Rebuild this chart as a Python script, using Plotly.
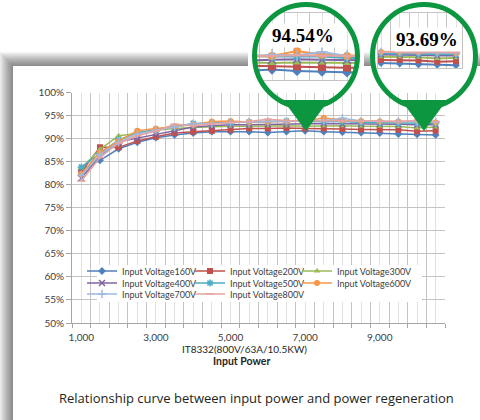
import math
import plotly.graph_objects as go

W, H = 480, 420

# ---------------- data ----------------
input_power = [1000, 1500, 2000, 2500, 3000, 3500, 4000, 4500, 5000, 5500,
               6000, 6500, 7000, 7500, 8000, 8500, 9000, 9500, 10000, 10500]
x_tick_vals = [1000, 3000, 5000, 7000, 9000]
x_tick_labels = ["1,000", "3,000", "5,000", "7,000", "9,000"]

series_names = ["Input Voltage160V", "Input Voltage200V", "Input Voltage300V",
                "Input Voltage400V", "Input Voltage500V", "Input Voltage600V",
                "Input Voltage700V", "Input Voltage800V"]

v160 = [83.2, 85.3, 87.8, 89.2, 90.2, 90.8, 91.2, 91.5, 91.5, 91.5,
        91.3, 91.5, 91.7, 91.5, 91.4, 91.3, 91.2, 91.0, 90.9, 90.8]
v200 = [82.8, 88.1, 88.1, 89.5, 90.4, 91.2, 91.5, 91.7, 91.9, 92.2,
        92.2, 92.3, 92.2, 92.2, 92.1, 92.0, 92.0, 91.9, 91.6, 91.7]
v300 = [83.6, 87.7, 90.6, 91.1, 91.8, 92.2, 92.4, 92.6, 92.7, 92.7,
        92.8, 92.8, 92.7, 92.8, 92.8, 92.7, 92.7, 92.6, 92.3, 92.5]
v400 = [81.4, 86.3, 89.3, 90.1, 91.0, 91.8, 92.5, 92.8, 93.0, 93.0,
        93.1, 93.1, 93.2, 93.3, 93.2, 93.2, 93.2, 93.1, 93.0, 93.0]
v500 = [83.8, 86.8, 89.7, 91.3, 91.9, 92.6, 93.3, 93.4, 93.5, 93.6,
        93.6, 93.8, 93.7, 93.7, 93.7, 93.5, 93.4, 93.4, 93.4, 93.3]
v600 = [82.3, 87.0, 89.5, 91.7, 92.2, 92.6, 93.0, 93.7, 93.8, 93.6,
        93.6, 93.7, 93.8, 94.54, 94.0, 93.8, 93.7, 93.7, 93.8, 93.5]
v700 = [82.0, 86.5, 89.2, 91.0, 91.8, 92.5, 93.2, 93.3, 93.5, 93.6,
        93.7, 93.7, 94.0, 93.9, 94.4, 93.8, 93.7, 93.7, 93.6, 93.6]
v800 = [80.8, 85.9, 89.0, 90.6, 91.6, 93.1, 92.8, 93.2, 93.5, 93.7,
        94.2, 93.9, 93.8, 93.9, 93.8, 93.8, 93.8, 93.69, 93.9, 93.7]
series_values = [v160, v200, v300, v400, v500, v600, v700, v800]

callout_texts = ["94.54%", "93.69%"]

x_title = "IT8332(800V/63A/10.5KW)"
x_title2 = "Input Power"
caption = "Relationship curve between input power and power regeneration"

# ---------------- styles ----------------
colors = ["#4F81BD", "#C0504D", "#9BBB59", "#8064A2", "#4BACC6", "#F79646",
          "#9DB9DE", "#E5A4A2"]
symbols = ["diamond", "square", "triangle-up", "x-thin-open", "asterisk-open",
           "circle", "cross-thin-open", "line-ew-open"]
open_sym = [False, False, False, True, True, False, True, True]
GREEN = "#0C9640"
GRID_MAJ = "#C4C4C4"
GRID_MIN = "#E0E0E0"
AXIS = "#A6A6A6"


def fx(x):
    return x / W


def fy(y):
    return 1 - y / H


def rect_path(x0, y0, x1, y1):
    return (f"M {fx(x0):.5f},{fy(y0):.5f} L {fx(x1):.5f},{fy(y0):.5f} "
            f"L {fx(x1):.5f},{fy(y1):.5f} L {fx(x0):.5f},{fy(y1):.5f} Z")


def circle_path(cx, cy, r, clip, n=90):
    pts = []
    for k in range(n):
        a = 2 * math.pi * k / n
        x = min(max(cx + r * math.cos(a), clip[0]), clip[2])
        y = min(max(cy + r * math.sin(a), clip[1]), clip[3])
        pts.append(f"{fx(x):.5f},{fy(y):.5f}")
    return "M " + " L ".join(pts) + " Z"


fig = go.Figure()

boundaries = [p - 250 for p in input_power] + [input_power[-1] + 250]
tick_text = [x_tick_labels[x_tick_vals.index(p)] if p in x_tick_vals else ""
             for p in input_power]

legend_ids = ["legend"] + [f"legend{k}" for k in range(2, 9)]
col_text_x = [125, 233, 340]
row_y = [271, 283, 294]

# main traces
for i, (name, vals) in enumerate(zip(series_names, series_values)):
    fig.add_trace(go.Scatter(
        x=input_power, y=vals, name=name, mode="lines+markers",
        line=dict(color=colors[i], width=1.5),
        marker=dict(symbol=symbols[i], size=6, color=colors[i],
                    line=dict(color=colors[i], width=1.5 if open_sym[i] else 0)),
        legend=legend_ids[i], xaxis="x", yaxis="y", hoverinfo="skip"))

# magnified callout traces
for ax in ["2", "3"]:
    for i, vals in enumerate(series_values):
        fig.add_trace(go.Scatter(
            x=input_power, y=vals, mode="lines+markers", showlegend=False,
            line=dict(color=colors[i], width=2),
            marker=dict(symbol=symbols[i], size=8 if ax == "2" else 6, color=colors[i],
                        line=dict(color=colors[i], width=1.5 if open_sym[i] else 0)),
            xaxis="x" + ax, yaxis="y" + ax, hoverinfo="skip"))

shapes = []
# card shadow
for d in range(14, 0, -1):
    shapes.append(dict(type="rect", xref="paper", yref="paper",
                       x0=fx(13 - d), x1=fx(490), y0=fy(430), y1=fy(66 - d),
                       fillcolor="rgba(0,0,0,0.04)", line=dict(width=0), layer="below"))
# white discs behind the callouts
for cx in [306, 424]:
    shapes.append(dict(type="circle", xref="paper", yref="paper",
                       x0=fx(cx - 53), x1=fx(cx + 53), y0=fy(56 + 53), y1=fy(56 - 53),
                       fillcolor="white", line=dict(width=0), layer="below"))
# card
shapes.append(dict(type="rect", xref="paper", yref="paper",
                   x0=fx(13), x1=fx(490), y0=fy(430), y1=fy(66),
                   fillcolor="white", line=dict(width=0), layer="below"))
# legend background
shapes.append(dict(type="rect", xref="paper", yref="paper",
                   x0=fx(97), x1=fx(422), y0=fy(302), y1=fy(265),
                   fillcolor="white", line=dict(width=0), layer="above"))
# masks outside callout circles
for (cx, box) in [(306, (248, 10, 364, 82)), (424, (375, 10, 465, 71))]:
    path = rect_path(*box) + " " + circle_path(cx, 56, 51.5, box)
    shapes.append(dict(type="path", xref="paper", yref="paper", path=path,
                       fillcolor="white", line=dict(width=0), fillrule="evenodd",
                       layer="above"))
# circles + pointers
for cx in [306, 424]:
    shapes.append(dict(type="path", xref="paper", yref="paper",
                       path=(f"M {fx(cx-23):.5f},{fy(100):.5f} L {fx(cx+23):.5f},{fy(100):.5f} "
                             f"L {fx(cx):.5f},{fy(131):.5f} Z"),
                       fillcolor=GREEN, line=dict(width=0), layer="above"))
    shapes.append(dict(type="circle", xref="paper", yref="paper",
                       x0=fx(cx - 51.5), x1=fx(cx + 51.5), y0=fy(56 + 51.5), y1=fy(56 - 51.5),
                       fillcolor="rgba(0,0,0,0)", line=dict(color=GREEN, width=5),
                       layer="above"))


def ann(text, x, y, font, **kw):
    return dict(text=text, x=fx(x), y=fy(y), xref="paper", yref="paper",
                xanchor="center", yanchor="middle", showarrow=False, font=font, **kw)


annotations = [
    ann(x_title, 244, 349, dict(family="Lato", size=10, color="#262626")),
    ann("<b>" + x_title2 + "</b>", 241, 361, dict(family="Lato", size=10.5, color="#262626")),
    ann(caption, 256, 398, dict(family="Open Sans", size=13, color="#231F20")),
    ann("<b>" + callout_texts[0] + "</b>", 303, 35,
        dict(family="Liberation Serif", size=19, color="black"), bgcolor="white", borderpad=1),
    ann("<b>" + callout_texts[1] + "</b>", 427, 39,
        dict(family="Liberation Serif", size=19, color="black"), bgcolor="white", borderpad=1),
]

tickfont = dict(family="Lato", size=10, color="#404040")


def inset_axes(dom_x, dom_y, xr, yr, anchor):
    xa = dict(domain=[fx(dom_x[0]), fx(dom_x[1])], range=xr, anchor=anchor,
              tickmode="array", tickvals=boundaries, showticklabels=False,
              showgrid=True, gridcolor=GRID_MAJ, gridwidth=1.2, ticks="", zeroline=False,
              minor=dict(tickmode="array", tickvals=input_power, showgrid=True,
                         gridcolor=GRID_MIN, gridwidth=1.2),
              showline=True, mirror=True, linecolor=GRID_MAJ, fixedrange=True,
              automargin=False)
    ya = dict(domain=[fy(dom_y[1]), fy(dom_y[0])], range=yr,
              showticklabels=False, showgrid=False, zeroline=False, ticks="",
              showline=True, mirror=True, linecolor=GRID_MAJ, fixedrange=True,
              automargin=False)
    return xa, ya


x2, y2 = inset_axes((250, 362), (13, 80), [6560, 8800], [90.1, 100.4], "y2")
x3, y3 = inset_axes((378, 462), (13, 68), [8420, 10660], [90.2, 102.5], "y3")
y2["anchor"] = "x2"
y3["anchor"] = "x3"

legend_common = dict(orientation="h", xanchor="left", yanchor="middle",
                     bgcolor="rgba(0,0,0,0)", borderwidth=0, itemwidth=30,
                     font=dict(family="Lato", size=9, color="#404040"))
legends = {}
for i, lid in enumerate(legend_ids):
    legends[lid] = dict(x=fx(col_text_x[i % 3] - 43), y=fy(row_y[i // 3]), **legend_common)

fig.update_layout(
    width=W, height=H, margin=dict(l=0, r=0, t=0, b=0, pad=0, autoexpand=False),
    paper_bgcolor="white", plot_bgcolor="white",
    xaxis=dict(domain=[fx(72), fx(445)], range=[750, 10750], anchor="y",
               tickmode="array", tickvals=input_power, ticktext=tick_text,
               showgrid=True, gridcolor=GRID_MIN, gridwidth=1.2, ticks="",
               minor=dict(tickmode="array", tickvals=boundaries, showgrid=True,
                          gridcolor=GRID_MAJ, gridwidth=1.2, ticks="outside",
                          ticklen=4, tickcolor=AXIS),
               showline=True, linecolor=AXIS, linewidth=1, zeroline=False,
               tickfont=tickfont, ticklabelstandoff=5, fixedrange=True, automargin=False),
    yaxis=dict(domain=[fy(323), fy(92.5)], range=[50, 100], anchor="x",
               tickmode="linear", tick0=50, dtick=5, ticksuffix="%",
               showgrid=True, gridcolor=GRID_MAJ, gridwidth=1.2, zeroline=False,
               showline=True, linecolor=AXIS, ticks="outside", ticklen=5,
               tickcolor=AXIS, tickfont=tickfont, fixedrange=True, automargin=False),
    xaxis2=x2, yaxis2=y2, xaxis3=x3, yaxis3=y3,
    shapes=shapes, annotations=annotations,
    **legends,
)

fig.write_html("out.html", config={"displayModeBar": False},
               post_script="document.body.style.margin='0px';document.body.style.overflow='hidden';")
